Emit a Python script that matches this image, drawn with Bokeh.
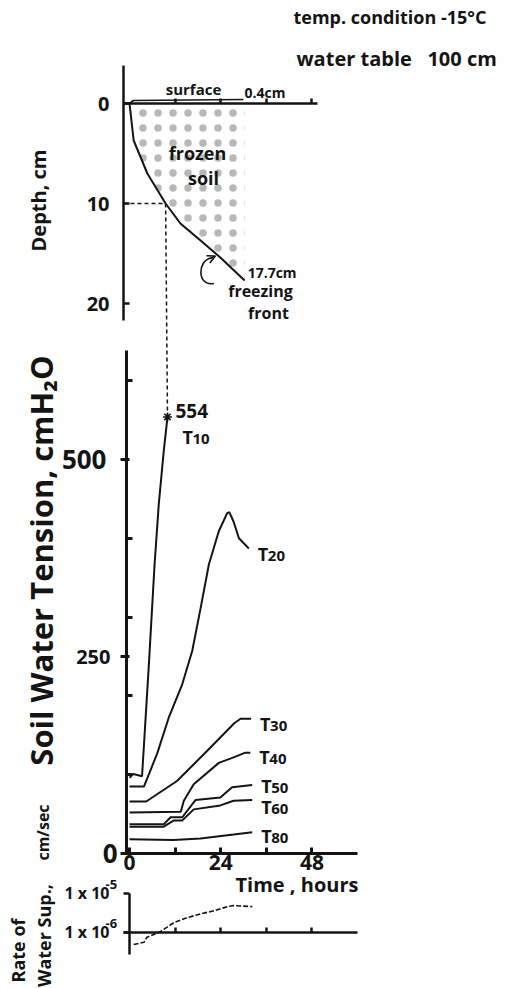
import math
from bokeh.plotting import figure
from bokeh.models import (Range1d, LogScale, LinearAxis, LogAxis, FixedTicker,
                          Label, Arrow, OpenHead)
from bokeh.core.properties import value
from bokeh.embed import file_html
from bokeh.resources import INLINE

# ---------------- data ----------------
# freezing front (time h, depth cm)
front_t = [0, 1.1, 4.7, 9.5, 13.4, 18.7, 23.9, 30.3]
front_d = [0, 3.7, 7.0, 10.0, 12.0, 13.7, 15.4, 17.7]
# soil surface heave (time h, depth cm)
surface_t = [0, 1.0, 30.0]
surface_d = [0, -0.3, -0.4]

# soil water tension (time h, cmH2O)
T10_t = [0, 1.0, 3.3, 5.1, 6.6, 7.7, 9.0, 10.0]
T10_v = [96, 101, 98, 240, 367, 443, 510, 554]
T20_t = [0, 3.8, 7.3, 10.3, 13.9, 16.5, 18.7, 20.9, 23.5, 25.7, 26.3, 27.4, 28.8, 31.4]
T20_v = [85, 85, 127, 172, 215, 257, 311, 367, 409, 432, 433, 421, 400, 387]
T30_t = [0, 4.4, 12.5, 20.4, 27.5, 29.2, 32.0]
T30_v = [66, 66, 92, 130, 165, 171, 171]
T40_t = [0, 13.5, 14.3, 16.9, 23.5, 27.4, 30.5, 31.8]
T40_v = [52, 53, 67, 88, 115, 122, 128, 128]
T50_t = [0, 9.0, 10.8, 13.9, 17.4, 23.9, 27.0, 32.3]
T50_v = [37, 37, 46, 46, 68, 71, 84, 87]
T60_t = [0, 9.0, 11.7, 13.9, 16.9, 23.9, 27.4, 32.3]
T60_v = [34, 34, 42, 42, 56, 61, 67, 68]
T80_t = [0, 11.6, 18.7, 27.4, 32.3]
T80_v = [18, 17, 19, 24, 27]
tension_names = ["10", "20", "30", "40", "50", "60", "80"]

# rate of water supply (time h, cm/sec)
rate_t = [1.1, 3.8, 4.6, 6.4, 8.2, 9.9, 11.7, 15.2, 18.7, 22.2, 25.7, 27.4, 32.3]
rate_v = [4.9e-7, 5.6e-7, 7.6e-7, 8.9e-7, 1.07e-6, 1.37e-6, 1.8e-6, 2.4e-6,
          3.0e-6, 3.6e-6, 4.6e-6, 4.9e-6, 4.6e-6]

# ticks
depth_ticks = [0, 10, 20]
time_ticks = [0, 24, 48]
time_minor = [12, 36]
time_all = [12, 24, 36, 48]
tension_ticks = [0, 250, 500]
tension_minor = [100, 200, 300, 400, 600]
rate_ticks = [1e-6, 1e-5]

# ---------------- layout (window pixels) ----------------
W, H, M = 526, 988, 0
X0, PXH = 129.0, 3.8          # t = 0 position, px per hour
TY0, TPX = 853.0, 0.788       # tension 0 position, px per cmH2O
DY0, DPX = 103.0, 10.0        # depth 0 position, px per cm
RY6, RPX = 932.0, 39.0        # 1e-6 position, px per decade

INK = "#141414"
FONT = "Open Sans"


def t_of(X):
    return (X - X0) / PXH


def ten_of(Y):
    return (TY0 - Y) / TPX


def dep_of(Y):
    return (Y - DY0) / DPX


def rate_of(Y):
    return 10 ** (-6 + (RY6 - Y) / RPX)


p = figure(width=W, height=H, output_backend="svg", toolbar_location=None,
           x_range=Range1d(t_of(M), t_of(M + W)),
           y_range=Range1d(ten_of(M + H), ten_of(M)),
           x_axis_type=None, y_axis_type=None, min_border=0,
           outline_line_color=None, background_fill_color="white",
           border_fill_color="white")
p.extra_y_ranges = {"depth": Range1d(dep_of(M + H), dep_of(M)),
                    "rate": Range1d(rate_of(M + H), rate_of(M))}
p.extra_y_scales = {"rate": LogScale()}


def style_axis(ax, lw, size, standoff, t_in, t_out, m_in=0, m_out=0,
               line=True, ticks=True):
    ax.axis_line_width = lw
    ax.axis_line_color = INK if line else None
    ax.major_tick_line_width = lw
    ax.major_tick_line_color = INK if ticks else None
    ax.major_tick_in = t_in
    ax.major_tick_out = t_out
    ax.minor_tick_line_width = lw
    ax.minor_tick_line_color = INK if ticks else None
    ax.minor_tick_in = m_in
    ax.minor_tick_out = m_out
    ax.major_label_standoff = standoff
    ax.major_label_text_font = FONT
    ax.major_label_text_font_size = f"{max(size, 1)}px"
    ax.major_label_text_font_style = "bold"
    ax.major_label_text_color = INK if size > 0 else None


# ----- depth panel axes -----
ax = LinearAxis(y_range_name="depth", fixed_location=t_of(123),
                bounds=(dep_of(65), dep_of(320)),
                ticker=FixedTicker(ticks=depth_ticks, minor_ticks=[]))
style_axis(ax, 2.5, 20, 14, 6, 0)
p.add_layout(ax, "left")

ax = LinearAxis(y_range_name="depth", fixed_location=0,
                bounds=(t_of(123), t_of(317)),
                ticker=FixedTicker(ticks=time_all, minor_ticks=[]))
style_axis(ax, 2.5, 0, 0, 5, 0)
p.add_layout(ax, "below")

# ----- tension panel axes -----
ax = LinearAxis(fixed_location=t_of(126), bounds=(0, ten_of(350)),
                ticker=FixedTicker(ticks=tension_ticks, minor_ticks=tension_minor))
style_axis(ax, 3, 0, 0, 3, 6, 6, 0)
p.add_layout(ax, "left")
for tk, size, so in ((tension_ticks[2], 26, 14), (tension_ticks[1], 20, 10),
                     (tension_ticks[0], 26, 3)):
    ax = LinearAxis(fixed_location=t_of(126),
                    ticker=FixedTicker(ticks=[tk], minor_ticks=[]))
    style_axis(ax, 3, size, so, 0, 6, line=False, ticks=False)
    p.add_layout(ax, "left")

ax = LinearAxis(fixed_location=0, bounds=(t_of(123), t_of(357)),
                ticker=FixedTicker(ticks=time_ticks, minor_ticks=time_minor))
style_axis(ax, 3, 21, 1, 6, 0, 6, 0)
p.add_layout(ax, "below")

# ----- rate panel axes -----
ax = LogAxis(y_range_name="rate", fixed_location=0,
             bounds=(rate_of(954), rate_ticks[-1]),
             ticker=FixedTicker(ticks=rate_ticks, minor_ticks=[]))
style_axis(ax, 2.5, 0, 0, 0, 6)
p.add_layout(ax, "left")

ax = LinearAxis(y_range_name="rate", fixed_location=rate_ticks[0],
                bounds=(t_of(123), t_of(357)),
                ticker=FixedTicker(ticks=time_all, minor_ticks=[]))
style_axis(ax, 2.5, 0, 0, 5, 0)
p.add_layout(ax, "below")

# rate tick labels: "1 x 10" with a raised exponent
rate_exp = [str(int(round(math.log10(v)))) for v in rate_ticks]
p.text(x=[0] * len(rate_ticks), y=rate_ticks, text=["1 x 10"] * len(rate_ticks),
       y_range_name="rate", x_offset=-20, y_offset=-1, text_align="right",
       text_baseline="middle", text_font=value(FONT), text_font_size="16px",
       text_font_style="bold", text_color=INK)
p.text(x=[0] * len(rate_ticks), y=rate_ticks, text=rate_exp,
       y_range_name="rate", x_offset=-24, y_offset=-9, text_align="left",
       text_baseline="middle", text_font=value(FONT), text_font_size="13px",
       text_font_style="bold", text_color=INK)

# ---------------- depth panel glyphs ----------------
# stippled "frozen soil" zone between the surface and the freezing front
p.patch(front_t + [front_t[-1]], front_d + [0], y_range_name="depth",
        fill_alpha=0, line_alpha=0, hatch_pattern=".", hatch_scale=15,
        hatch_weight=0.2, hatch_alpha=0.3, hatch_color=INK)
p.line(front_t, front_d, y_range_name="depth", line_width=2, line_color=INK)
p.line(surface_t, surface_d, y_range_name="depth", line_width=1.6, line_color=INK)

i10 = front_d.index(10.0)
p.line([t_of(123), front_t[i10]], [front_d[i10], front_d[i10]], y_range_name="depth",
       line_dash="4 3", line_width=1.5, line_color=INK)
# vertical dashed link from the front at 10 cm to the T10 reading
p.line([front_t[i10], T10_t[-1]], [ten_of(DY0 + front_d[i10] * DPX), T10_v[-1]],
       line_dash="4 3", line_width=1.5, line_color=INK)

# curved arrow pointing at the freezing front
p.bezier(x0=[22.2], y0=[18.0], x1=[21.6], y1=[15.45], cx0=[17.6], cy0=[18.3],
         cx1=[17.9], cy1=[15.6], y_range_name="depth", line_width=1.6, line_color=INK)
p.add_layout(Arrow(x_start=21.2, y_start=15.5, x_end=22.6, y_end=15.25,
                   y_range_name="depth", line_width=1.6, line_color=INK,
                   end=OpenHead(size=8, line_width=1.6, line_color=INK)))

# ---------------- tension panel glyphs ----------------
curves = [(T10_t, T10_v), (T20_t, T20_v), (T30_t, T30_v), (T40_t, T40_v),
          (T50_t, T50_v), (T60_t, T60_v), (T80_t, T80_v)]
for ct, cv in curves:
    p.line(ct, cv, line_width=2, line_color=INK)
p.scatter([T10_t[-1]], [T10_v[-1]], marker="asterisk", size=9, line_width=1.6,
          line_color=INK)

end_t = [c[0][-1] for c in curves]
end_v = [c[1][-1] for c in curves]
x_off = [15, 9, 9, 9, 9, 9, 9]
y_off = [20, 5, 5, 4, 1, 7, 4]
p.text(x=end_t, y=end_v, text=["T"] * len(curves), x_offset=x_off, y_offset=y_off,
       text_font=value(FONT), text_font_size="18px", text_font_style="bold",
       text_baseline="middle", text_color=INK)
p.text(x=end_t, y=end_v, text=tension_names, x_offset=[o + 10 for o in x_off],
       y_offset=[o + 2 for o in y_off],
       text_font=value(FONT), text_font_size="15px", text_font_style="bold",
       text_baseline="middle", text_color=INK)
p.text(x=[T10_t[-1]], y=[T10_v[-1]], text=[str(T10_v[-1])], x_offset=8, y_offset=-6,
       text_font=value(FONT), text_font_size="19px", text_font_style="bold",
       text_baseline="middle", text_color=INK)

# ---------------- rate panel glyphs ----------------
p.line(rate_t, rate_v, y_range_name="rate", line_dash="5 2", line_width=1.6,
       line_color=INK)

# ---------------- texts ----------------
p.text(x=[surface_t[-1]], y=[surface_d[-1]], text=[f"{abs(surface_d[-1])}cm"],
       y_range_name="depth", x_offset=1, y_offset=-7, text_font=value(FONT),
       text_font_size="14px", text_font_style="bold", text_baseline="middle",
       text_color=INK)
p.text(x=[front_t[-1]], y=[front_d[-1]], text=[f"{front_d[-1]}cm"],
       y_range_name="depth", x_offset=3, y_offset=-8, text_font=value(FONT),
       text_font_size="14px", text_font_style="bold", text_baseline="middle",
       text_color=INK)


def lab(X, Y, text, size, angle=0.0, align="center", style="bold"):
    p.add_layout(Label(x=X - M, y=M + H - Y, x_units="screen", y_units="screen",
                       text=text, angle=angle, text_align=align,
                       text_baseline="middle", text_font=FONT,
                       text_font_size=f"{size}px", text_font_style=style,
                       text_color=INK))


NB = "\u00a0"
lab(293, 16, "temp. condition -15°C", 18, align="left")
lab(296, 58, f"water table{NB * 3}100{NB}cm", 20, align="left")
lab(38, 200, "Depth, cm", 20, angle=math.pi / 2)
lab(193, 88, "surface", 15)
lab(197, 152, "frozen", 18)
lab(203, 177, "soil", 18)
lab(260, 290, "freezing", 16)
lab(268, 312, "front", 16)
lab(40, 560, "Soil Water Tension, cmH₂O", 31, angle=math.pi / 2)
lab(235, 884, f"Time{NB},{NB}hours", 20, align="left")
lab(17, 950, "Rate of", 18, angle=math.pi / 2)
lab(43, 935, "Water Sup.,", 18, angle=math.pi / 2)
lab(42, 832, "cm/sec", 16, angle=math.pi / 2)

open("out.html", "w").write(file_html(p, INLINE))
